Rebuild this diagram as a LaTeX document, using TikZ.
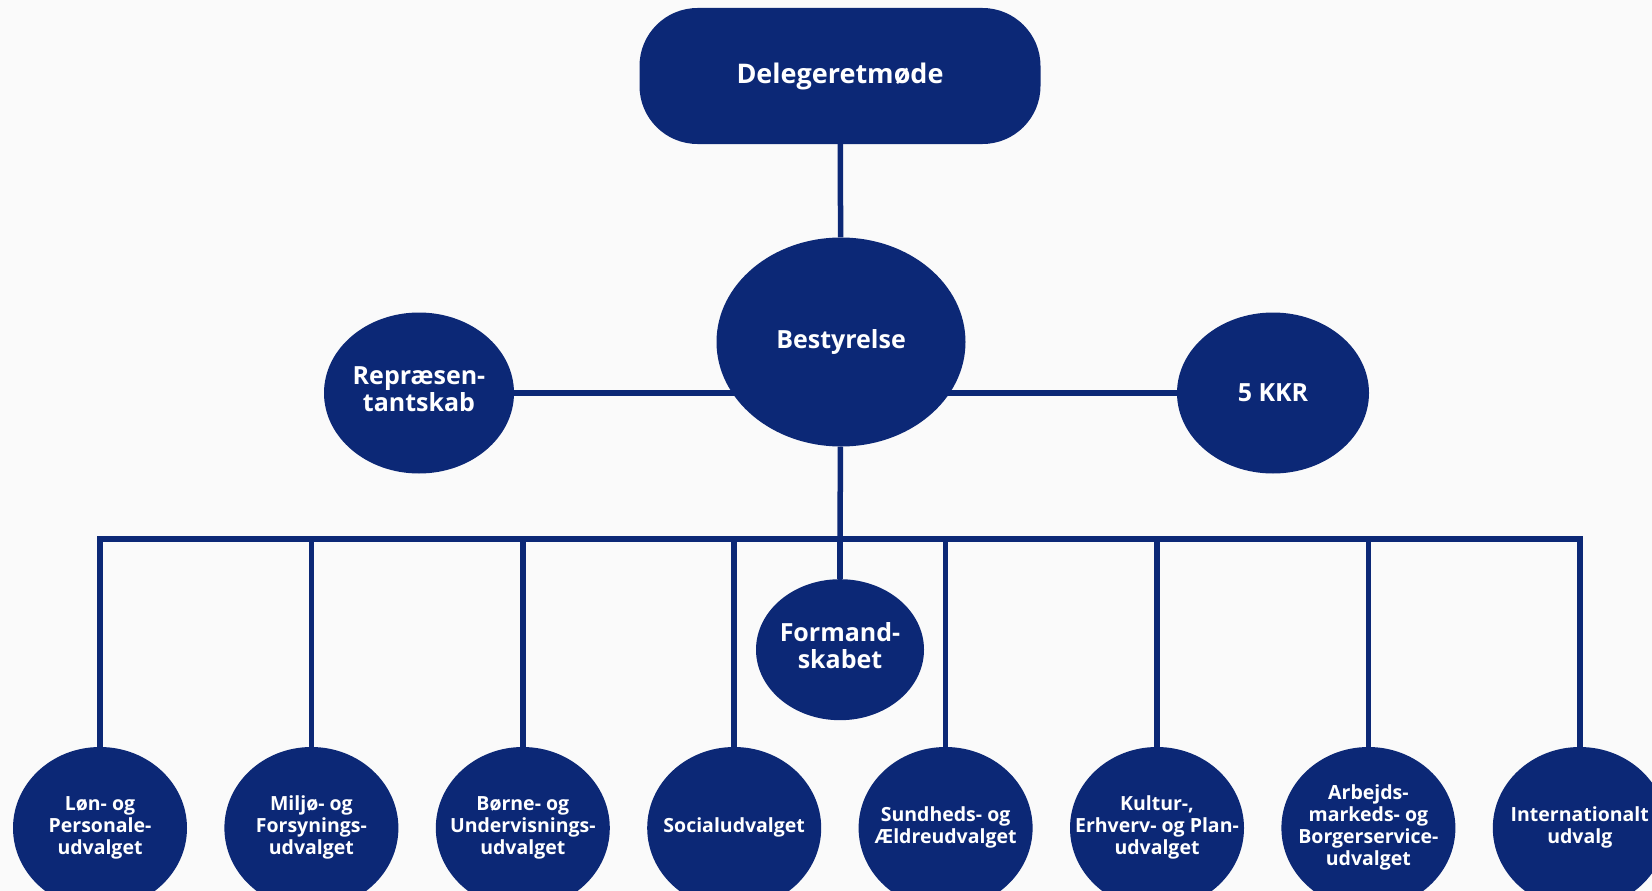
\documentclass[tikz,border=0pt]{standalone}
\usepackage{fontspec}
\setmainfont{Open Sans}
\usepackage{tikz}
\usetikzlibrary{ shapes.geometric, positioning }
\definecolor{kl}{RGB}{12,40,118}
\definecolor{paper}{RGB}{250,250,250}
\tikzset{
x=1pt, y=-1pt, % pixel units, y runs downwards
node distance=37pt, % gap between the committee ellipses
unit/.style={ellipse, fill=kl, text=white, inner sep=0pt,
  font=\bfseries\fontsize{25}{26}\selectfont}, % every body of the organisation
udvalg/.style={unit, minimum width=174pt, minimum height=162pt,
  font=\bfseries\fontsize{19.5}{22}\selectfont}, % the committees in the bottom row
link/.style={draw=kl, line width=5.5pt},
}
% centred lines that do not widen the ellipse
\newcommand{\ltxt}[1]{\makebox[0pt]{\begin{tabular}{@{}c@{}}#1\end{tabular}}}

\begin{document}
\begin{tikzpicture}
  \fill[paper] (0,0) rectangle (1652,891);
  \clip (0,0) rectangle (1652,891);

  % Top ---------------------------------------------
  \node[rectangle, rounded corners=58pt, fill=kl, text=white, inner sep=0pt,
        minimum width=401pt, minimum height=136pt,
        font=\bfseries\fontsize{27}{30}\selectfont] (del) at (840,76) {Delegeretmøde};
  \node[unit, minimum width=249pt, minimum height=209pt] (best) at (841,342) {Bestyrelse};
  \node[unit, minimum width=190pt, minimum height=161pt] (rep) at (419,393) {\ltxt{Repræsen-\\tantskab}};
  \node[unit, minimum width=192pt, minimum height=161pt] (kkr) at (1273,393) {5 KKR};

  % Bus line under the board
  \coordinate (bus) at (840,539);
  \node[unit, minimum width=168pt, minimum height=141pt, below=40pt of bus] (form) {\ltxt{Formand-\\skabet}};

  % Committees --------------------------------------
  \node[udvalg] (lon) at (100,828) {\ltxt{Løn- og\\Personale-\\udvalget}};
  \node[udvalg, right=of lon]  (milj) {\ltxt{Miljø- og\\Forsynings-\\udvalget}};
  \node[udvalg, right=of milj] (born) {\ltxt{Børne- og\\Undervisnings-\\udvalget}};
  \node[udvalg, right=of born] (soc)  {\ltxt{Socialudvalget}};
  \node[udvalg, right=of soc]  (sund) {\ltxt{Sundheds- og\\Ældreudvalget}};
  \node[udvalg, right=of sund] (kult) {\ltxt{Kultur-,\\Erhverv- og Plan-\\udvalget}};
  \node[udvalg, right=of kult] (arb)  {\ltxt{Arbejds-\\markeds- og\\Borgerservice-\\udvalget}};
  \node[udvalg, right=of arb]  (intl) {\ltxt{Internationalt\\udvalg}};

  \draw[link] (del) -- (best);
  \draw[link] (rep) -- (rep -| best);
  \draw[link] (kkr) -- (kkr -| best);
  \draw[link] (best) -- (bus);
  \draw[link] (form) -- (bus);
  \draw[link] (lon) -- (lon |- bus) -- (intl |- bus) -- (intl);

  \path[link]
  (milj) edge (milj |- bus)
  (born) edge (born |- bus)
  (soc)  edge (soc |- bus)
  (sund) edge (sund |- bus)
  (kult) edge (kult |- bus)
  (arb)  edge (arb |- bus) ;
\end{tikzpicture}
\end{document}
